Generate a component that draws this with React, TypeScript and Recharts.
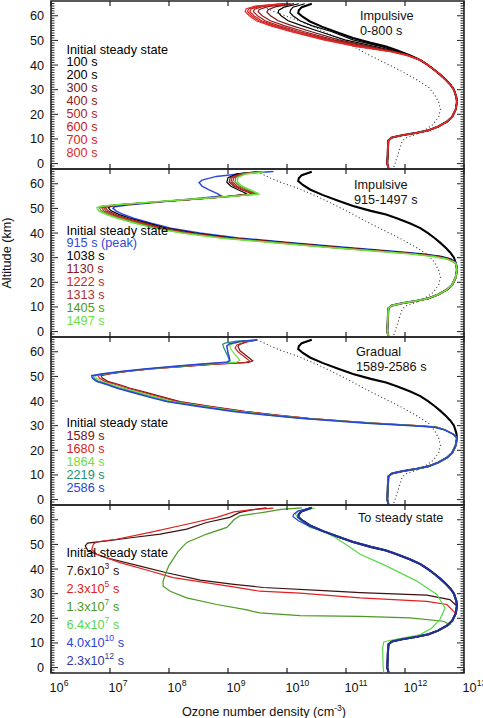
import { ReferenceArea, Scatter, ScatterChart, XAxis, YAxis } from "recharts";

// each profile is a list of [altitude km, log10 ozone density cm^-3]
type Pair = [number, number];

const X_TICKS = [1e6, 1e7, 1e8, 1e9, 1e10, 1e11, 1e12, 1e13];
const ALT_LABELS = [0, 10, 20, 30, 40, 50, 60];
const ALT_DOMAIN: [number, number] = [-2.2, 66];

const STEADY: Pair[] = [
  [64.9, 10.42], [63.5, 10.25], [62.2, 10.2], [61.1, 10.19], [59.5, 10.27], [57.7, 10.39],
  [55.5, 10.6], [53, 10.88], [51, 11.12], [49, 11.42], [47.5, 11.68], [46, 11.86], [44, 12.08],
  [42, 12.26], [40, 12.39], [38, 12.5], [36, 12.6], [34, 12.69], [32, 12.77], [30, 12.83],
  [27, 12.87], [25, 12.88], [22, 12.86], [19, 12.8], [17, 12.71], [15, 12.56], [13.5, 12.4],
  [12.5, 12.2], [11.5, 11.95], [10.6, 11.78], [9.5, 11.72], [6, 11.71], [0, 11.7], [-2, 11.72],
];

const DOTTED: Pair[] = [
  [64.3, 9.55], [62.5, 9.7], [61, 9.85], [58, 10.2], [55, 10.5], [51.5, 10.8], [48.5, 11.05],
  [44.6, 11.35], [41, 11.65], [37.8, 11.92], [34, 12.2], [31, 12.4], [28, 12.5], [25, 12.57],
  [22, 12.6], [19, 12.57], [16, 12.48], [13.5, 12.33], [12, 12.2], [10.5, 12.02], [9, 11.95],
  [6, 11.91], [3, 11.87], [0, 11.83], [-2, 11.8],
];

// steady-state profile below a given altitude (where the runs rejoin it)
const below = (alt: number): Pair[] => STEADY.filter((p) => p[0] < alt);

// --- Impulsive 0-800 s
const IMP_100: Pair[] = [[64.9, 10.3], [63.5, 10.1], [62.3, 10.06], [61.3, 10.05], [60, 10.1], [58, 10.22], [56, 10.42], [53.6, 10.75], [50.2, 11.12], [47.5, 11.6], [45.4, 11.9], [44, 12.08]];
const IMP_200: Pair[] = [[64.9, 10.2], [63.5, 9.95], [62.3, 9.86], [61.4, 9.85], [60, 9.9], [58, 10.02], [56, 10.25], [53.6, 10.55], [50.2, 10.98], [47.5, 11.5], [45.4, 11.87], [44, 12.07]];
const IMP_300: Pair[] = [[64.9, 10.12], [63.6, 9.8], [62.5, 9.68], [61.5, 9.66], [60, 9.72], [58, 9.85], [56, 10.08], [53.6, 10.4], [50.2, 10.88], [47.5, 11.42], [45.4, 11.85], [44, 12.06]];
const IMP_400: Pair[] = [[64.9, 10.06], [63.7, 9.68], [62.6, 9.53], [61.6, 9.51], [60, 9.58], [58, 9.72], [56, 9.95], [53.6, 10.28], [50.2, 10.8], [47.5, 11.36], [45.4, 11.82], [44, 12.05]];
const IMP_500: Pair[] = [[64.9, 10.02], [63.8, 9.6], [62.7, 9.45], [61.7, 9.43], [60, 9.5], [58, 9.63], [56, 9.86], [53.6, 10.2], [50.2, 10.74], [47.5, 11.3], [45.4, 11.8], [44, 12.04]];
const IMP_600: Pair[] = [[64.9, 9.99], [63.8, 9.55], [62.8, 9.39], [61.7, 9.37], [60, 9.44], [58, 9.57], [56, 9.8], [53.6, 10.14], [50.2, 10.69], [47.5, 11.26], [45.4, 11.78], [44, 12.03]];
const IMP_700: Pair[] = [[64.9, 9.96], [63.9, 9.5], [62.8, 9.35], [61.8, 9.33], [60, 9.4], [58, 9.52], [56, 9.75], [53.6, 10.09], [50.2, 10.65], [47.5, 11.22], [45.4, 11.77], [44, 12.02]];
const IMP_800: Pair[] = [[64.9, 9.94], [63.9, 9.46], [62.9, 9.31], [61.8, 9.29], [60, 9.36], [58, 9.48], [56, 9.71], [53.6, 10.05], [50.2, 10.62], [47.5, 11.18], [45.4, 11.75], [44, 12.01]];

// --- Impulsive 915-1497 s
const PEAK_915: Pair[] = [[65, 9.77], [64.3, 9.3], [63, 8.8], [61.5, 8.56], [60.5, 8.51], [59, 8.56], [57.5, 8.68], [56, 8.82], [55, 8.89], [54.3, 8.6], [53.4, 8.2], [52.4, 7.75], [51.4, 7.3], [50.7, 7.08], [50.1, 7.05], [49, 7.1], [47.5, 7.23], [46, 7.4], [44, 7.7], [42, 8.03], [40, 8.52], [38, 9.18], [36, 10.12], [34, 11.08], [32.5, 11.85], [31.5, 12.32], [30.5, 12.62], [29.5, 12.78], [28, 12.86]];
const IMP_1038: Pair[] = [[64.9, 9.5], [64, 9.15], [62.5, 9.0], [60.6, 8.98], [59, 9.05], [57.5, 9.18], [56.2, 9.3], [55.8, 9.32], [54.7, 8.92], [53.6, 8.35], [52.6, 7.8], [51.6, 7.3], [50.9, 7.02], [50.3, 6.97], [49, 7.02], [47.5, 7.16], [46, 7.34], [44, 7.64], [42, 7.96], [40, 8.44], [38, 9.09], [36, 10.03], [34, 10.99], [32.5, 11.78], [31.5, 12.27], [30.5, 12.59], [29.5, 12.76], [28, 12.85]];
const IMP_1130: Pair[] = [[64.9, 9.55], [64, 9.2], [62.5, 9.04], [60.7, 9.02], [59, 9.1], [57.5, 9.24], [56.2, 9.38], [55.8, 9.41], [54.7, 8.93], [53.6, 8.33], [52.6, 7.77], [51.6, 7.26], [50.9, 6.96], [50.3, 6.92], [49, 6.97], [47.5, 7.1], [46, 7.28], [44, 7.58], [42, 7.9], [40, 8.38], [38, 9.03], [36, 9.97], [34, 10.93], [32.5, 11.72], [31.5, 12.22], [30.5, 12.55], [29.5, 12.74], [28, 12.85]];
const IMP_1222: Pair[] = [[64.9, 9.57], [64, 9.23], [62.5, 9.07], [60.7, 9.05], [59, 9.13], [57.5, 9.27], [56.2, 9.42], [55.8, 9.45], [54.7, 8.94], [53.6, 8.32], [52.6, 7.76], [51.6, 7.24], [50.9, 6.93], [50.3, 6.89], [49, 6.93], [47.5, 7.06], [46, 7.24], [44, 7.54], [42, 7.86], [40, 8.34], [38, 8.99], [36, 9.93], [34, 10.89], [32.5, 11.68], [31.5, 12.19], [30.5, 12.53], [29.5, 12.73], [28, 12.85]];
const IMP_1313: Pair[] = [[64.9, 9.58], [64, 9.25], [62.5, 9.1], [60.7, 9.08], [59, 9.16], [57.5, 9.3], [56.2, 9.45], [55.8, 9.47], [54.7, 8.95], [53.6, 8.31], [52.6, 7.75], [51.6, 7.22], [50.9, 6.9], [50.3, 6.86], [49, 6.89], [47.5, 7.02], [46, 7.2], [44, 7.5], [42, 7.82], [40, 8.3], [38, 8.95], [36, 9.89], [34, 10.85], [32.5, 11.65], [31.5, 12.16], [30.5, 12.51], [29.5, 12.72], [28, 12.85]];
const IMP_1405: Pair[] = [[64.9, 9.6], [64, 9.27], [62.5, 9.13], [60.7, 9.12], [59, 9.2], [57.5, 9.34], [56.2, 9.48], [55.8, 9.5], [54.7, 8.96], [53.6, 8.3], [52.6, 7.73], [51.6, 7.2], [50.9, 6.87], [50.3, 6.82], [49, 6.85], [47.5, 6.98], [46, 7.16], [44, 7.46], [42, 7.78], [40, 8.26], [38, 8.91], [36, 9.85], [34, 10.81], [32.5, 11.61], [31.5, 12.13], [30.5, 12.49], [29.5, 12.71], [28, 12.85]];
const IMP_1497: Pair[] = [[64.9, 9.62], [64, 9.3], [62.5, 9.16], [60.7, 9.16], [59, 9.24], [57.5, 9.38], [56.2, 9.5], [55.8, 9.52], [54.7, 8.97], [53.6, 8.29], [52.6, 7.72], [51.6, 7.18], [50.9, 6.84], [50.3, 6.78], [49, 6.81], [47.5, 6.94], [46, 7.12], [44, 7.42], [42, 7.74], [40, 8.22], [38, 8.87], [36, 9.81], [34, 10.77], [32.5, 11.57], [31.5, 12.1], [30.5, 12.47], [29.5, 12.7], [28, 12.85]];

// --- Gradual 1589-2586 s
const GRAD_1589: Pair[] = [[64.8, 9.5], [64, 9.32], [63, 9.2], [62.3, 9.17], [60.5, 9.2], [59, 9.28], [57.5, 9.36], [56.3, 9.42], [55.7, 9.35], [55, 8.8], [54, 8.22], [53, 7.7], [52, 7.3], [51, 6.99], [50.3, 6.85], [49.3, 6.87], [48, 6.96], [46.5, 7.18], [45.3, 7.33], [43.5, 7.61], [41.5, 7.92], [39.8, 8.19], [37.8, 8.7], [35.8, 9.29], [34.3, 9.84], [33, 10.38], [32, 10.93], [31, 11.48], [29.9, 12.28], [29.4, 12.54], [28.3, 12.68], [26.5, 12.82], [25.5, 12.86]];
const GRAD_1680: Pair[] = [[64.8, 9.5], [64, 9.3], [62.8, 9.15], [61.6, 9.12], [60, 9.17], [58.5, 9.25], [57, 9.33], [56.2, 9.37], [55.6, 9.28], [55, 8.75], [54, 8.18], [53, 7.67], [52, 7.27], [51, 6.95], [50.3, 6.8], [49.3, 6.82], [48, 6.91], [46.5, 7.13], [45.3, 7.28], [43.5, 7.56], [41.5, 7.87], [39.8, 8.14], [37.8, 8.66], [35.8, 9.25], [34.3, 9.8], [33, 10.35], [32, 10.9], [31, 11.46], [29.9, 12.27], [29.4, 12.53], [28.3, 12.68], [26.5, 12.82], [25.5, 12.86]];
const GRAD_1864: Pair[] = [[64.8, 9.49], [64.2, 9.25], [63.3, 9.08], [62.5, 9.03], [61, 9.05], [59.5, 9.1], [58, 9.15], [56.5, 9.2], [55.8, 9.15], [55, 8.65], [54, 8.12], [53, 7.63], [52, 7.23], [51, 6.91], [50.3, 6.75], [49.3, 6.77], [48, 6.85], [46.5, 7.06], [45.3, 7.21], [43.5, 7.49], [41.5, 7.8], [39.8, 8.07], [37.8, 8.6], [35.8, 9.19], [34.3, 9.74], [33, 10.3], [32, 10.86], [31, 11.42], [29.9, 12.25], [29.4, 12.52], [28.3, 12.68], [26.5, 12.82], [25.5, 12.86]];
const GRAD_2219: Pair[] = [[64.8, 9.49], [64.3, 9.15], [63.5, 8.95], [63, 8.91], [61.5, 8.93], [60, 8.96], [58.5, 8.99], [56.8, 9.02], [56.2, 9.03], [55.8, 9.0], [55, 8.57], [54, 8.07], [53, 7.6], [52, 7.2], [51, 6.88], [50.3, 6.72], [49.3, 6.73], [48, 6.8], [46.5, 7.0], [45.3, 7.15], [43.5, 7.42], [41.5, 7.72], [39.8, 8.0], [37.8, 8.54], [35.8, 9.13], [34.3, 9.69], [33, 10.26], [32, 10.82], [31, 11.38], [29.9, 12.22], [29.4, 12.51], [28.3, 12.67], [26.5, 12.82], [25.5, 12.86]];
const GRAD_2586: Pair[] = [[64.8, 9.49], [64.2, 9.2], [63.2, 9.02], [62.3, 8.98], [61, 8.99], [59.5, 9.0], [58, 9.02], [56.5, 9.03], [55.8, 8.98], [55, 8.55], [54, 8.05], [53, 7.58], [52, 7.18], [51, 6.85], [50.3, 6.69], [49.3, 6.7], [48, 6.77], [46.5, 6.97], [45.3, 7.11], [43.5, 7.38], [41.5, 7.68], [39.8, 7.96], [37.8, 8.5], [35.8, 9.09], [34.3, 9.65], [33, 10.22], [32, 10.78], [31, 11.35], [29.9, 12.2], [29.4, 12.5], [28.3, 12.67], [26.5, 12.82], [25.5, 12.86]];

// --- To steady state
const RELAX_76E3: Pair[] = [[64.8, 9.65], [64, 9.4], [63, 9.2], [61, 9.03], [58.9, 8.64], [56.2, 8.3], [54.2, 7.85], [52.8, 7.39], [51.4, 6.94], [50.5, 6.62], [49.4, 6.58], [47.3, 6.63], [44.6, 6.94], [41.2, 7.51], [38.5, 7.96], [35.5, 8.53], [33.8, 9.1], [32.5, 9.6], [31, 10.78], [30.4, 11.24], [29.4, 12.37], [27.6, 12.76], [25.6, 12.85]];
const RELAX_23E5: Pair[] = [[64.7, 9.77], [64.2, 9.45], [63.2, 9.1], [61, 8.81], [58.2, 8.3], [54.9, 7.68], [52.1, 7.11], [51, 6.77], [50.1, 6.72], [48, 6.69], [46, 6.77], [42.6, 7.17], [39.2, 7.68], [36.5, 8.07], [32.8, 9.09], [31, 9.54], [30.2, 10.22], [28.3, 11.24], [26.9, 12.37], [25.6, 12.71], [22.9, 12.82]];
const RELAX_13E7: Pair[] = [[64.8, 10.25], [64.2, 9.9], [63, 9.6], [61.6, 9.2], [60, 9.1], [58.9, 9.06], [56.9, 8.98], [54.2, 8.64], [50.8, 8.3], [47, 8.15], [44, 8.07], [41.5, 8.0], [39.2, 7.96], [35.1, 7.9], [33, 7.9], [31, 8.02], [28.3, 8.3], [25.6, 8.81], [23.5, 9.3], [22.2, 9.54], [21.1, 10.22], [20.8, 11.24], [20.2, 12.08], [18.8, 12.65], [17.4, 12.76]];
const RELAX_64E7: Pair[] = [[64.8, 10.47], [63.5, 10.2], [62.3, 10.14], [60.5, 10.2], [58.5, 10.3], [56.9, 10.39], [55.5, 10.6], [53, 10.8], [50, 11.0], [46, 11.24], [41.2, 11.69], [35.1, 12.2], [29.7, 12.54], [24.2, 12.68], [19.5, 12.59], [16, 12.45], [13.3, 12.25], [11.3, 11.8], [10.4, 11.64], [7.9, 11.62], [0, 11.63], [-2, 11.64]];
const RELAX_40E10: Pair[] = [[64.9, 10.4], [63.5, 10.18], [62.2, 10.11], [61.3, 10.1], [59.5, 10.2], [57.7, 10.35], [55.5, 10.58]];

type Curve = { data: Pair[]; color: string; width: number; dash?: string };
type Label = { text: string; color: string; sup?: string; tail?: string };

const dotted: Curve = { data: DOTTED, color: "#333", width: 1.1, dash: "1 2.6" };
const steady: Curve = { data: STEADY, color: "#000", width: 2.1 };

const PANELS: { curves: Curve[]; labels: Label[]; title: string[]; titleX: number; legendGap: number }[] = [
  {
    title: ["Impulsive", "0-800 s"],
    titleX: 360,
    legendGap: 12.9,
    curves: [
      dotted,
      steady,
      { data: [...IMP_100, ...below(44)], color: "#000", width: 1.2 },
      { data: [...IMP_200, ...below(44)], color: "#000", width: 1.2 },
      { data: [...IMP_300, ...below(44)], color: "#701818", width: 1.2 },
      { data: [...IMP_400, ...below(44)], color: "#8e1c1c", width: 1.2 },
      { data: [...IMP_500, ...below(44)], color: "#b01e1e", width: 1.2 },
      { data: [...IMP_600, ...below(44)], color: "#c82020", width: 1.2 },
      { data: [...IMP_700, ...below(44)], color: "#d92222", width: 1.2 },
      { data: [...IMP_800, ...below(44)], color: "#e22a2a", width: 1.2 },
    ],
    labels: [
      { text: "Initial steady state", color: "#000" },
      { text: "100 s", color: "#000" },
      { text: "200 s", color: "#000" },
      { text: "300 s", color: "#701818" },
      { text: "400 s", color: "#8e1c1c" },
      { text: "500 s", color: "#b01e1e" },
      { text: "600 s", color: "#c82020" },
      { text: "700 s", color: "#d92222" },
      { text: "800 s", color: "#e22a2a" },
    ],
  },
  {
    title: ["Impulsive", "915-1497 s"],
    titleX: 354,
    legendGap: 12.9,
    curves: [
      dotted,
      steady,
      { data: [...PEAK_915, ...below(28)], color: "#3048e0", width: 1.5 },
      { data: [...IMP_1038, ...below(28)], color: "#000", width: 1.2 },
      { data: [...IMP_1130, ...below(28)], color: "#8a1a1a", width: 1.2 },
      { data: [...IMP_1222, ...below(28)], color: "#d42222", width: 1.2 },
      { data: [...IMP_1313, ...below(28)], color: "#b0302c", width: 1.2 },
      { data: [...IMP_1405, ...below(28)], color: "#4e9a22", width: 1.2 },
      { data: [...IMP_1497, ...below(28)], color: "#70e040", width: 1.5 },
    ],
    labels: [
      { text: "Initial steady state", color: "#000" },
      { text: "915 s (peak)", color: "#3048e0" },
      { text: "1038 s", color: "#000" },
      { text: "1130 s", color: "#8a1a1a" },
      { text: "1222 s", color: "#d42222" },
      { text: "1313 s", color: "#b0302c" },
      { text: "1405 s", color: "#4e9a22" },
      { text: "1497 s", color: "#70e040" },
    ],
  },
  {
    title: ["Gradual", "1589-2586 s"],
    titleX: 356,
    legendGap: 12.9,
    curves: [
      dotted,
      steady,
      { data: [...GRAD_1589, ...below(25.5)], color: "#7a1414", width: 1.2 },
      { data: [...GRAD_1680, ...below(25.5)], color: "#d42424", width: 1.2 },
      { data: [...GRAD_1864, ...below(25.5)], color: "#70e040", width: 1.2 },
      { data: [...GRAD_2219, ...below(25.5)], color: "#229078", width: 1.2 },
      { data: [...GRAD_2586, ...below(25.5)], color: "#2a44d8", width: 1.5 },
    ],
    labels: [
      { text: "Initial steady state", color: "#000" },
      { text: "1589  s", color: "#7a1414" },
      { text: "1680 s", color: "#d42424" },
      { text: "1864 s", color: "#70e040" },
      { text: "2219 s", color: "#229078" },
      { text: "2586 s", color: "#2a44d8" },
    ],
  },
  {
    title: ["To steady state"],
    titleX: 358,
    legendGap: 18,
    curves: [
      steady,
      { data: [...RELAX_76E3, ...below(25.5)], color: "#3c1010", width: 1.2 },
      { data: [...RELAX_23E5, ...below(22.5)], color: "#e02020", width: 1.2 },
      { data: [...RELAX_13E7, ...below(17.4)], color: "#4c9a24", width: 1.2 },
      { data: RELAX_64E7, color: "#58d848", width: 1.2 },
      { data: [...RELAX_40E10, ...below(55.5)], color: "#2a44e0", width: 1.2 },
      { data: STEADY, color: "#23309a", width: 2.1 },
    ],
    labels: [
      { text: "Initial steady state", color: "#000" },
      { text: "7.6x10", sup: "3", tail: " s", color: "#3c1010" },
      { text: "2.3x10", sup: "5", tail: " s", color: "#e02020" },
      { text: "1.3x10", sup: "7", tail: " s", color: "#4c9a24" },
      { text: "6.4x10", sup: "7", tail: " s", color: "#58d848" },
      { text: "4.0x10", sup: "10", tail: " s", color: "#2a44e0" },
      { text: "2.3x10", sup: "12", tail: " s", color: "#2a3aa8" },
    ],
  },
];

const FONT = "'Liberation Sans', Arial, Helvetica, sans-serif";
const FS = 12.7;
const PAD = 4;
const PLOT_H = 168;
const LEFT = 51;
const RIGHT = 464;
const PANEL_TOPS = [1, 169, 337, 505];
const LEGEND_TOPS = [53.5, 234.5, 427.2, 556.8];
const TITLE_TOPS = [20.2, 188.5, 356.2, 521.8];
const AXIS = "#222";

const Y_TICKS = Array.from({ length: 68 }, (_, i) => i - 2);

const toPoints = (d: Pair[]) => d.map(([alt, e]) => ({ x: 10 ** e, y: alt }));
const NoDot = () => <g />;

function XTick(props: any) {
  const { x, payload, showLabel } = props;
  const bottom = PAD + PLOT_H;
  const exp = Math.round(Math.log10(payload.value));
  return (
    <g>
      <line x1={x} x2={x} y1={bottom} y2={bottom - 5} stroke={AXIS} strokeWidth={1.2} />
      <line x1={x} x2={x} y1={PAD} y2={PAD + 5} stroke={AXIS} strokeWidth={1.2} />
      {showLabel && (
        <text x={x - 1.5} y={bottom + 19} fontSize={FS} fontFamily={FONT} fill="#111">
          10
          <tspan dy={-6} fontSize={8.6}>
            {exp}
          </tspan>
        </text>
      )}
    </g>
  );
}

function YTick(props: any) {
  const { y, payload } = props;
  const v = payload.value;
  const major = v % 10 === 0 && ALT_LABELS.includes(v);
  const len = major ? 7 : 3.5;
  return (
    <g>
      <line x1={LEFT} x2={LEFT + len} y1={y} y2={y} stroke={AXIS} strokeWidth={1} />
      <line x1={RIGHT} x2={RIGHT - len} y1={y} y2={y} stroke={AXIS} strokeWidth={1} />
      {major && (
        <text x={LEFT - 7} y={y + 4.5} textAnchor="end" fontSize={FS} fontFamily={FONT} fill="#111">
          {v}
        </text>
      )}
    </g>
  );
}

function Panel({ curves, top, last }: { curves: Curve[]; top: number; last: boolean }) {
  const extra = last ? 30 : PAD;
  return (
    <div style={{ position: "absolute", left: 0, top: top - PAD }}>
      <ScatterChart
        width={483}
        height={PAD + PLOT_H + extra}
        margin={{ top: PAD, right: 483 - RIGHT, bottom: 0, left: 0 }}
      >
        <XAxis
          type="number"
          dataKey="x"
          scale="log"
          domain={[1e6, 1e13]}
          ticks={X_TICKS}
          interval={0}
          allowDataOverflow
          axisLine={false}
          tickLine={false}
          height={extra}
          tick={(p: any) => <XTick {...p} showLabel={last} />}
        />
        <YAxis
          type="number"
          dataKey="y"
          domain={ALT_DOMAIN}
          ticks={Y_TICKS}
          interval={0}
          allowDataOverflow
          axisLine={false}
          tickLine={false}
          width={LEFT}
          tick={(p: any) => <YTick {...p} />}
        />
        {curves.map((c, i) => (
          <Scatter
            key={i}
            data={toPoints(c.data)}
            line={{ stroke: c.color, strokeWidth: c.width, strokeDasharray: c.dash }}
            shape={NoDot}
            isAnimationActive={false}
          />
        ))}
        <ReferenceArea
          x1={1e6}
          x2={1e13}
          y1={ALT_DOMAIN[0]}
          y2={ALT_DOMAIN[1]}
          fill="none"
          fillOpacity={0}
          stroke={AXIS}
          strokeWidth={1.6}
        />
      </ScatterChart>
    </div>
  );
}

export default function App() {
  return (
    <div
      style={{
        position: "absolute",
        left: 0,
        top: 0,
        width: 483,
        height: 718,
        background: "#fff",
        fontFamily: FONT,
      }}
    >
      {PANELS.map((p, i) => (
        <Panel key={i} curves={p.curves} top={PANEL_TOPS[i]} last={i === PANELS.length - 1} />
      ))}
      <svg
        width={483}
        height={718}
        style={{ position: "absolute", left: 0, top: 0, pointerEvents: "none" }}
        fontFamily={FONT}
        fontSize={FS}
      >
        {PANELS.map((p, i) => (
          <g key={i}>
            {p.title.map((t, j) => (
              <text key={j} x={p.titleX} y={TITLE_TOPS[i] + j * 15} fill="#111">
                {t}
              </text>
            ))}
            {p.labels.map((l, j) => (
              <text key={j} x={66.5} y={LEGEND_TOPS[i] + j * p.legendGap} fill={l.color}>
                {l.text}
                {l.sup && (
                  <tspan dy={-5.5} fontSize={8.6}>
                    {l.sup}
                  </tspan>
                )}
                {l.tail && <tspan dy={5.5}>{l.tail}</tspan>}
              </text>
            ))}
          </g>
        ))}
        <text x={10.5} y={253} transform="rotate(-90 10.5 253)" textAnchor="middle" fill="#111">
          Altitude (km)
        </text>
        <text x={264} y={716} textAnchor="middle" fill="#111">
          Ozone number density (cm
          <tspan dy={-5.5} fontSize={8.6}>
            -3
          </tspan>
          <tspan dy={5.5}>)</tspan>
        </text>
      </svg>
    </div>
  );
}
